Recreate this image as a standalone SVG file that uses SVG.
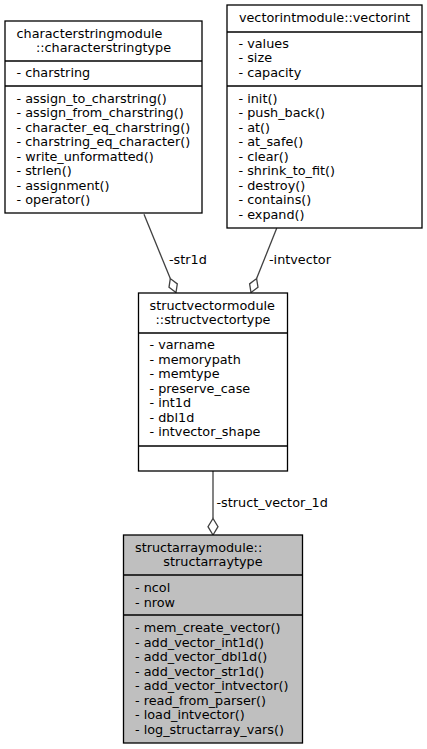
<svg xmlns="http://www.w3.org/2000/svg" width="427" height="749" viewBox="0 0 427 749">
<style>
text{font-family:"DejaVu Sans","Liberation Sans",sans-serif;font-size:12.8px;fill:#000}
.c{text-anchor:middle}
.box{fill:#fff;stroke:#000;stroke-width:1.3}
.root{fill:#bfbfbf;stroke:#000;stroke-width:1.3}
.sep{stroke:#000;stroke-width:1.3}
.edge{stroke:#404040;stroke-width:1.3;fill:none}
.dia{stroke:#404040;stroke-width:1.3;fill:#fff}
</style>
<rect width="427" height="749" fill="#fff"/>
<g id="connectors">
<path class="edge" d="M144,214.3 L170.3,278.6"/>
<polygon class="dia" points="176,292.5 177.3,283.9 170.3,278.6 169,287.3"/>
<text x="169" y="263.5">-str1d</text>
<path class="edge" d="M276.7,228.3 L256.6,278.6"/>
<polygon class="dia" points="251,292.5 258,287.2 256.6,278.6 249.6,283.9"/>
<text x="269" y="263.5">-intvector</text>
<path class="edge" d="M213,471 L213,518.5"/>
<polygon class="dia" points="213,535 218,526.7 213,518.5 208,526.7"/>
<text x="216.5" y="506.5">-struct_vector_1d</text>
</g>
<g id="characterstringtype">
<rect class="box" x="5" y="21" width="197" height="192"/>
<line class="sep" x1="5" y1="61" x2="202" y2="61"/>
<line class="sep" x1="5" y1="86" x2="202" y2="86"/>
<text x="16.5" y="37.5">characterstringmodule</text>
<text class="c" x="103.5" y="52">::characterstringtype</text>
<text x="16.5" y="77">- charstring</text>
<text x="16.5" y="102.5">- assign_to_charstring()</text>
<text x="16.5" y="117">- assign_from_charstring()</text>
<text x="16.5" y="131.5">- character_eq_charstring()</text>
<text x="16.5" y="146">- charstring_eq_character()</text>
<text x="16.5" y="160.5">- write_unformatted()</text>
<text x="16.5" y="175">- strlen()</text>
<text x="16.5" y="189.5">- assignment()</text>
<text x="16.5" y="204">- operator()</text>
</g>
<g id="vectorint">
<rect class="box" x="227" y="5" width="195" height="223"/>
<line class="sep" x1="227" y1="32" x2="422" y2="32"/>
<line class="sep" x1="227" y1="86" x2="422" y2="86"/>
<text class="c" x="324.5" y="22">vectorintmodule::vectorint</text>
<text x="238.5" y="47.5">- values</text>
<text x="238.5" y="62">- size</text>
<text x="238.5" y="76.5">- capacity</text>
<text x="238.5" y="102.5">- init()</text>
<text x="238.5" y="117">- push_back()</text>
<text x="238.5" y="131.5">- at()</text>
<text x="238.5" y="146">- at_safe()</text>
<text x="238.5" y="160.5">- clear()</text>
<text x="238.5" y="175">- shrink_to_fit()</text>
<text x="238.5" y="189.5">- destroy()</text>
<text x="238.5" y="204">- contains()</text>
<text x="238.5" y="218.5">- expand()</text>
</g>
<g id="structvectortype">
<rect class="box" x="138.5" y="293" width="149" height="178"/>
<line class="sep" x1="138.5" y1="333" x2="287.5" y2="333"/>
<line class="sep" x1="138.5" y1="446" x2="287.5" y2="446"/>
<text x="149.5" y="309.5">structvectormodule</text>
<text class="c" x="213" y="324">::structvectortype</text>
<text x="149.5" y="349">- varname</text>
<text x="149.5" y="363.5">- memorypath</text>
<text x="149.5" y="378">- memtype</text>
<text x="149.5" y="392.5">- preserve_case</text>
<text x="149.5" y="407">- int1d</text>
<text x="149.5" y="421.5">- dbl1d</text>
<text x="149.5" y="436">- intvector_shape</text>
</g>
<g id="structarraytype">
<rect class="root" x="123.5" y="535" width="179" height="208"/>
<line class="sep" x1="123.5" y1="575" x2="302.5" y2="575"/>
<line class="sep" x1="123.5" y1="615" x2="302.5" y2="615"/>
<text x="135" y="551.5">structarraymodule::</text>
<text class="c" x="213" y="566">structarraytype</text>
<text x="135" y="592">- ncol</text>
<text x="135" y="606.5">- nrow</text>
<text x="135" y="632">- mem_create_vector()</text>
<text x="135" y="646.5">- add_vector_int1d()</text>
<text x="135" y="661">- add_vector_dbl1d()</text>
<text x="135" y="675.5">- add_vector_str1d()</text>
<text x="135" y="690">- add_vector_intvector()</text>
<text x="135" y="704.5">- read_from_parser()</text>
<text x="135" y="719">- load_intvector()</text>
<text x="135" y="733.5">- log_structarray_vars()</text>
</g>
</svg>
